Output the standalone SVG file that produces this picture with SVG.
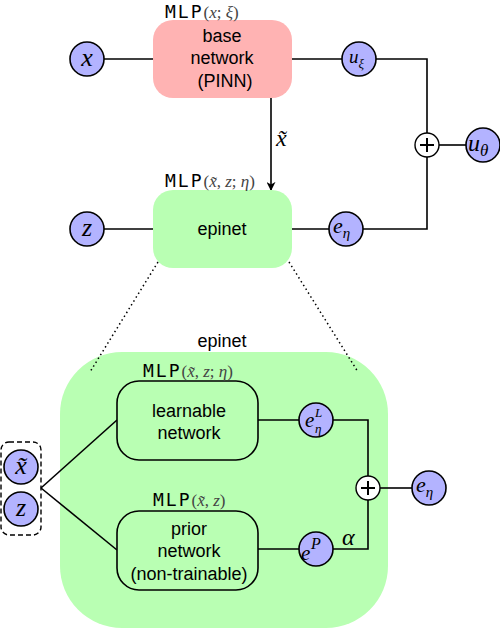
<svg xmlns="http://www.w3.org/2000/svg" width="500" height="630" viewBox="0 0 500 630">
<defs>
<style>
.lbl{font-family:"Liberation Sans",Arial,sans-serif;font-size:18px;fill:#000;text-anchor:middle}
.mono{font-family:"DejaVu Sans Mono",monospace;font-size:18px;fill:#000;letter-spacing:2px}
.m{font-family:"Liberation Serif","Times New Roman",serif;font-style:italic;fill:#000}
.mg{font-family:"Liberation Serif",serif;font-size:17px;fill:#444}
.node{fill:#b3b3ff;stroke:#000;stroke-width:1.6}
.ln{fill:none;stroke:#000;stroke-width:1.6}
.plus{fill:#fff;stroke:#000;stroke-width:1.4}
</style>
<marker id="arr" viewBox="0 0 10 10" refX="9" refY="5" markerWidth="9" markerHeight="9" orient="auto" markerUnits="userSpaceOnUse">
<path d="M0,0 L10,5 L0,10 L3,5 z" fill="#000"/>
</marker>
</defs>

<g id="epinet-container">
<rect x="60" y="352" width="328" height="276" rx="62" fill="#b9ffb3"/>
<text class="lbl" x="222" y="347">epinet</text>
</g>

<g id="connectors">
<line class="ln" x1="104" y1="59" x2="153" y2="59"/>
<line class="ln" x1="292" y1="59" x2="342" y2="59"/>
<polyline class="ln" points="376,59 427,59 427,133"/>
<line class="ln" x1="439" y1="145" x2="466" y2="145"/>
<polyline class="ln" points="427,157 427,229 363,229"/>
<line class="ln" x1="292" y1="229" x2="329" y2="229"/>
<line class="ln" x1="104" y1="229" x2="153" y2="229"/>
<line class="ln" x1="271" y1="98" x2="271" y2="190" marker-end="url(#arr)"/>
<line x1="158" y1="262" x2="90" y2="372" stroke="#000" stroke-width="1.5" stroke-dasharray="1.5,3"/>
<line x1="289" y1="262" x2="358" y2="372" stroke="#000" stroke-width="1.5" stroke-dasharray="1.5,3"/>
<line class="ln" x1="41" y1="488" x2="117" y2="420"/>
<line class="ln" x1="41" y1="488" x2="117" y2="550"/>
<line class="ln" x1="258" y1="420" x2="299" y2="420"/>
<polyline class="ln" points="333,420 368,420 368,476"/>
<line class="ln" x1="258" y1="549" x2="299" y2="549"/>
<polyline class="ln" points="333,549 368,549 368,500"/>
<line class="ln" x1="380" y1="488" x2="412" y2="488"/>
<text class="m" x="342" y="545" font-size="24">α</text>
<text class="m" x="276" y="146" font-size="24">x̃</text>
</g>

<g id="base-network">
<rect x="153" y="20" width="139" height="78" rx="20" fill="#ffb3b3"/>
<text class="lbl" x="222" y="42">base</text>
<text class="lbl" x="222" y="64">network</text>
<text class="lbl" x="225" y="87">(PINN)</text>
<text x="165" y="18"><tspan class="mono">MLP</tspan><tspan class="mg">(<tspan font-style="italic">x</tspan>; <tspan font-style="italic">ξ</tspan>)</tspan></text>
</g>

<g id="epinet">
<rect x="153" y="190" width="139" height="78" rx="20" fill="#b9ffb3"/>
<text class="lbl" x="222" y="235">epinet</text>
<text x="165" y="187"><tspan class="mono">MLP</tspan><tspan class="mg">(<tspan font-style="italic">x̃</tspan>, <tspan font-style="italic">z</tspan>; <tspan font-style="italic">η</tspan>)</tspan></text>
</g>

<g id="node-x">
<circle class="node" cx="87" cy="59" r="17"/>
<text class="m" x="87" y="66" font-size="26" text-anchor="middle">x</text>
</g>
<g id="node-z">
<circle class="node" cx="87" cy="229" r="17"/>
<text class="m" x="87" y="236" font-size="26" text-anchor="middle">z</text>
</g>
<g id="node-uxi">
<circle class="node" cx="359" cy="59" r="17"/>
<text class="m" x="349" y="63" font-size="19">u<tspan font-size="13" dy="5">ξ</tspan></text>
</g>
<g id="node-plus-top">
<circle class="plus" cx="427" cy="145" r="12"/>
<path d="M420,145 H434 M427,138 V152" stroke="#000" stroke-width="2"/>
</g>
<g id="node-utheta">
<circle class="node" cx="483" cy="145" r="17"/>
<text class="m" x="468" y="151" font-size="24">u<tspan font-size="17" dy="5">θ</tspan></text>
</g>
<g id="node-eeta">
<circle class="node" cx="346" cy="229" r="17"/>
<text class="m" x="333" y="233" font-size="22">e<tspan font-size="15" dy="5">η</tspan></text>
</g>

<g id="learnable-network">
<rect x="117" y="381" width="141" height="79" rx="22" fill="#b9ffb3" stroke="#000" stroke-width="1.6"/>
<text class="lbl" x="189" y="417">learnable</text>
<text class="lbl" x="189" y="439">network</text>
<text x="143" y="377"><tspan class="mono">MLP</tspan><tspan class="mg">(<tspan font-style="italic">x̃</tspan>, <tspan font-style="italic">z</tspan>; <tspan font-style="italic">η</tspan>)</tspan></text>
</g>

<g id="prior-network">
<rect x="117" y="511" width="141" height="79" rx="22" fill="#b9ffb3" stroke="#000" stroke-width="1.6"/>
<text class="lbl" x="189" y="535">prior</text>
<text class="lbl" x="189" y="557">network</text>
<text class="lbl" x="189" y="580">(non-trainable)</text>
<text x="153" y="506"><tspan class="mono">MLP</tspan><tspan class="mg">(<tspan font-style="italic">x̃</tspan>, <tspan font-style="italic">z</tspan>)</tspan></text>
</g>

<g id="node-eL">
<circle class="node" cx="316" cy="420" r="17"/>
<text class="m" x="305" y="427" font-size="21">e</text>
<text class="m" x="315" y="417" font-size="13">L</text>
<text class="m" x="315" y="433" font-size="13">η</text>
</g>
<g id="node-eP">
<circle class="node" cx="316" cy="549" r="17"/>
<text class="m" x="301" y="560" font-size="21">e</text>
<text class="m" x="311" y="549" font-size="16">P</text>
</g>
<g id="node-plus-bottom">
<circle class="plus" cx="368" cy="488" r="12"/>
<path d="M361,488 H375 M368,481 V495" stroke="#000" stroke-width="2"/>
</g>
<g id="node-eeta-out">
<circle class="node" cx="429" cy="488" r="17"/>
<text class="m" x="416" y="492" font-size="22">e<tspan font-size="15" dy="5">η</tspan></text>
</g>

<g id="inputs">
<rect x="1" y="442" width="40" height="93" rx="8" fill="none" stroke="#000" stroke-width="1.4" stroke-dasharray="5,3"/>
<circle class="node" cx="21" cy="467" r="17"/>
<text class="m" x="21" y="474" font-size="26" text-anchor="middle">x̃</text>
<circle class="node" cx="21" cy="509" r="17"/>
<text class="m" x="21" y="516" font-size="26" text-anchor="middle">z</text>
</g>
</svg>
